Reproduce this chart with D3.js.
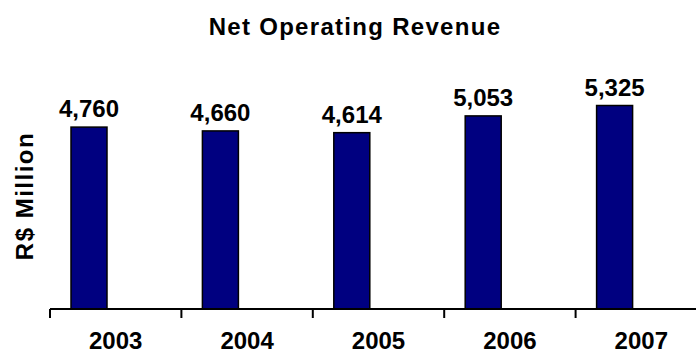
<!DOCTYPE html>
<html>
<head>
<meta charset="utf-8">
<script src="https://cdn.jsdelivr.net/npm/d3@7"></script>
<style>
  html, body { margin: 0; padding: 0; background: #fff; }
  svg { display: block; }
  text { font-family: "Liberation Sans", Arial, sans-serif; font-weight: bold; fill: #000; }
</style>
</head>
<body>
<svg id="chart" width="696" height="354"></svg>
<script>
// Net operating revenue by year, R$ million
const years = ["2003", "2004", "2005", "2006", "2007"];
const revenue = [4760, 4660, 4614, 5053, 5325];
const valueLabels = ["4,760", "4,660", "4,614", "5,053", "5,325"];
const chartTitle = "Net Operating Revenue";
const yTitle = "R$ Million";

const svg = d3.select("#chart");
const W = 696, H = 354;
const baseY = 309;

// category bands: each year's slot is bounded by tick marks
const x = d3.scaleBand().domain(years).range([50, 707]).padding(0);
const y = d3.scaleLinear().domain([0, 5600]).range([baseY, 95]);

const barOffset = 21, barWidth = 36;

// title
svg.append("text")
  .attr("x", 355).attr("y", 35)
  .attr("text-anchor", "middle")
  .style("font-size", "24px")
  .style("letter-spacing", "1.3px")
  .text(chartTitle);

// y axis title
svg.append("text")
  .attr("transform", "translate(33,196) rotate(-90)")
  .attr("text-anchor", "middle")
  .style("font-size", "24px")
  .style("letter-spacing", "1.5px")
  .text(yTitle);

// bars
svg.append("g").selectAll("rect")
  .data(years)
  .join("rect")
  .attr("x", (d) => x(d) + barOffset)
  .attr("y", (d, i) => y(revenue[i]))
  .attr("width", barWidth)
  .attr("height", (d, i) => baseY - y(revenue[i]))
  .attr("fill", "#000080")
  .attr("stroke", "#000")
  .attr("stroke-width", 1.5);

// value labels above bars
svg.append("g").selectAll("text")
  .data(years)
  .join("text")
  .attr("x", (d) => x(d) + barOffset + barWidth / 2)
  .attr("y", (d, i) => y(revenue[i]) - 10)
  .attr("text-anchor", "middle")
  .style("font-size", "24px")
  .text((d, i) => valueLabels[i]);

// category axis: ticks at the band boundaries, labels centred in each band
const axisG = svg.append("g").attr("transform", `translate(0,${baseY})`);
axisG.append("line")
  .attr("x1", x.range()[0]).attr("x2", W)
  .attr("y1", 0).attr("y2", 0)
  .attr("stroke", "#000").attr("stroke-width", 2);
const boundaries = years.map((d) => x(d)).concat([x.range()[1]]);
axisG.selectAll("line.tick")
  .data(boundaries)
  .join("line")
  .attr("class", "tick")
  .attr("x1", (d) => d).attr("x2", (d) => d)
  .attr("y1", 0).attr("y2", 9)
  .attr("stroke", "#000").attr("stroke-width", 2);
axisG.selectAll("text")
  .data(years)
  .join("text")
  .attr("x", (d) => x(d) + x.bandwidth() / 2)
  .attr("y", 40)
  .attr("text-anchor", "middle")
  .style("font-size", "24px")
  .text((d) => d);
</script>
</body>
</html>
